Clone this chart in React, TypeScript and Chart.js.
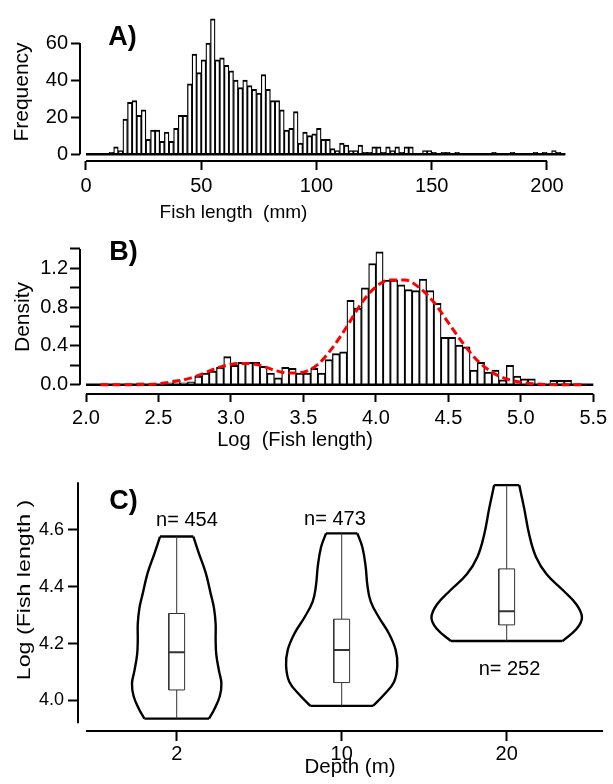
import { useEffect, useRef } from 'react';
import { Chart, registerables } from 'chart.js';

Chart.register(...registerables);

const FONT = '"Liberation Sans", Arial, Helvetica, sans-serif';
const INK = '#000000';
const BOX_INK = '#333333';
const FIT_RED = '#ff0000';

// A) Fish length frequencies, 2 mm bins from 0 mm
const lengthBinStart = 0;
const lengthBinWidth = 2;
const lengthCounts = [
  0, 0, 0, 0, 0, 1, 4, 2, 19, 28,
  29, 21, 24, 8, 13, 13, 7, 12, 7, 14,
  21, 21, 38, 54, 44, 51, 60, 73, 51, 52,
  48, 45, 40, 36, 40, 37, 35, 33, 43, 35,
  29, 29, 24, 13, 14, 23, 6, 12, 10, 11,
  14, 8, 8, 3, 2, 6, 5, 2, 2, 5,
  1, 1, 4, 4, 1, 4, 2, 4, 1, 4,
  4, 0, 0, 2, 2, 1, 0, 1, 1, 0,
  1, 0, 0, 0, 0, 0, 0, 0, 1, 0,
  0, 0, 1, 0, 0, 0, 0, 1, 0, 1,
  0, 2, 1, 0,
];
const lengthTicks = [0, 50, 100, 150, 200];
const frequencyTicks = [0, 20, 40, 60];

// B) Density of log(fish length), 0.05 bins from 2.0
const logBinStart = 2.0;
const logBinWidth = 0.05;
const logDensity = [
  0, 0, 0, 0, 0, 0, 0, 0.02, 0, 0,
  0, 0.02, 0.05, 0.02, 0.03, 0.09, 0.12, 0.14, 0.18, 0.29,
  0.2, 0.23, 0.23, 0.23, 0.19, 0.12, 0.07, 0.18, 0.17, 0.12,
  0.12, 0.17, 0.12, 0.26, 0.32, 0.34, 0.87, 0.79, 1.0, 1.25,
  1.37, 1.08, 1.08, 1.03, 0.98, 0.97, 1.09, 0.97, 0.84, 0.49,
  0.49, 0.41, 0.39, 0.15, 0.23, 0.13, 0.15, 0.05, 0.2, 0.09,
  0.06, 0.06, 0, 0, 0.045, 0.045, 0.045, 0, 0, 0,
];
// fitted two-component mixture density
const fitLogLength = [
  2.1, 2.2, 2.3, 2.4, 2.5, 2.6, 2.7, 2.8, 2.9, 3.0,
  3.1, 3.2, 3.3, 3.4, 3.5, 3.6, 3.7, 3.8, 3.9, 4.0,
  4.1, 4.2, 4.3, 4.4, 4.5, 4.6, 4.7, 4.8, 4.9, 5.0,
  5.1, 5.2, 5.3, 5.45,
];
const fitDensity = [
  0, 0, 0, 0.002, 0.01, 0.03, 0.06, 0.11, 0.17, 0.21,
  0.22, 0.2, 0.15, 0.12, 0.13, 0.21, 0.38, 0.6, 0.84, 1.01,
  1.08, 1.08, 1.0, 0.85, 0.64, 0.43, 0.25, 0.13, 0.06, 0.025,
  0.008, 0.002, 0, 0,
];
const logTicks = [2.0, 2.5, 3.0, 3.5, 4.0, 4.5, 5.0, 5.5];
const densityTicks = [0, 0.2, 0.4, 0.6, 0.8, 1.0, 1.2, 1.4];
const densityLabelled = [0, 0.4, 0.8, 1.2];

// C) Log(fish length) by depth: violin outlines (levels bottom to top) and box statistics
const depths = ['2', '10', '20'];
const sampleSizes = [454, 473, 252];
const violinLevels = [
  [3.936, 3.969, 4.015, 4.06, 4.105, 4.161, 4.212, 4.269, 4.325, 4.376, 4.449, 4.517, 4.577],
  [3.981, 4.02, 4.065, 4.122, 4.178, 4.235, 4.292, 4.348, 4.404, 4.472, 4.54, 4.588],
  [4.209, 4.252, 4.292, 4.337, 4.387, 4.444, 4.506, 4.585, 4.676, 4.758],
];
const violinHalfWidths = [
  [0.196, 0.228, 0.261, 0.271, 0.256, 0.24, 0.236, 0.236, 0.226, 0.206, 0.176, 0.135, 0.101],
  [0.19, 0.256, 0.317, 0.337, 0.327, 0.287, 0.226, 0.176, 0.156, 0.145, 0.125, 0.095],
  [0.338, 0.424, 0.456, 0.424, 0.343, 0.242, 0.177, 0.136, 0.106, 0.076],
];
const boxQ1 = [4.037, 4.063, 4.266];
const boxMedian = [4.17, 4.178, 4.314];
const boxQ3 = [4.306, 4.286, 4.463];
const boxHalfWidth = 0.048;
const countLabelX = [1.062, 1.959, 3.017];
const countLabelY = [4.632, 4.636, 4.11];
const logLengthTicks = [4.0, 4.2, 4.4, 4.6];

const W = 613;

type Note = {
  text: string;
  x: number;
  y: number;
  size: number;
  bold?: boolean;
  rotate?: boolean;
  stretch?: number;
};

type AxisSegments = {
  x: [number, number];
  y: [number, number];
};

// draws R-style axis lines (only over the given range) plus free text
function decorations(axes: AxisSegments, notes: (chart: Chart) => Note[]) {
  return {
    id: 'decorations',
    afterDraw(chart: Chart) {
      const { ctx, chartArea } = chart;
      const xs = chart.scales.x;
      const ys = chart.scales.y;
      ctx.save();
      ctx.strokeStyle = INK;
      ctx.lineWidth = 2;
      ctx.lineCap = 'butt';
      ctx.beginPath();
      ctx.moveTo(xs.getPixelForValue(axes.x[0]), chartArea.bottom);
      ctx.lineTo(xs.getPixelForValue(axes.x[1]), chartArea.bottom);
      ctx.moveTo(chartArea.left, ys.getPixelForValue(axes.y[0]));
      ctx.lineTo(chartArea.left, ys.getPixelForValue(axes.y[1]));
      ctx.stroke();
      for (const n of notes(chart)) {
        ctx.save();
        ctx.translate(n.x, n.y);
        if (n.rotate) ctx.rotate(-Math.PI / 2);
        ctx.scale(n.stretch ?? 1, 1);
        ctx.font = `${n.bold ? 'bold ' : ''}${n.size}px ${FONT}`;
        ctx.fillStyle = INK;
        ctx.textAlign = 'center';
        ctx.textBaseline = 'middle';
        ctx.fillText(n.text, 0, 0);
        ctx.restore();
      }
      ctx.restore();
    },
  };
}

function axis(
  min: number,
  max: number,
  ticks: number[],
  opts: { size: number; tickLength: number; padding: number; fixed: number; horizontal: boolean; label?: (v: number) => string },
) {
  return {
    type: 'linear' as const,
    min,
    max,
    offset: false,
    border: { display: false },
    grid: {
      offset: false,
      drawOnChartArea: false,
      drawTicks: true,
      tickLength: opts.tickLength,
      tickWidth: 2,
      tickColor: INK,
    },
    ticks: {
      color: INK,
      font: { family: FONT, size: opts.size },
      padding: opts.padding,
      autoSkip: false,
      maxRotation: 0,
      minRotation: 0,
      callback: (v: number | string) => (opts.label ? opts.label(Number(v)) : String(v)),
    },
    afterBuildTicks: (s: any) => {
      s.ticks = ticks.map((value) => ({ value }));
    },
    afterFit: (s: any) => {
      if (opts.horizontal) s.height = opts.fixed;
      else s.width = opts.fixed;
    },
  };
}

const baseOptions = {
  responsive: false,
  maintainAspectRatio: false,
  animation: false as const,
  devicePixelRatio: 1,
  events: [] as any[],
  plugins: { legend: { display: false }, tooltip: { enabled: false } },
};

const histBarStyle = {
  type: 'bar',
  backgroundColor: '#ffffff',
  borderColor: INK,
  borderWidth: { top: 2, left: 1.3, right: 1.3, bottom: 0 },
  borderSkipped: 'start',
  barPercentage: 1,
  categoryPercentage: 1,
  order: 2,
};

function lengthHistogram(): any {
  const bars = lengthCounts.map((c, i) => ({ x: lengthBinStart + (i + 0.5) * lengthBinWidth, y: c }));
  const end = lengthBinStart + lengthCounts.length * lengthBinWidth;
  return {
    type: 'bar',
    data: {
      datasets: [
        {
          type: 'line',
          data: [
            { x: lengthBinStart, y: 0 },
            { x: end, y: 0 },
          ],
          borderColor: INK,
          borderWidth: 2.5,
          pointRadius: 0,
          order: 1,
        },
        { ...histBarStyle, data: bars },
      ],
    },
    options: {
      ...baseOptions,
      layout: { padding: { top: 10, right: 38, bottom: 0, left: 0 } },
      scales: {
        x: axis(-2.603, 212.15, lengthTicks, { size: 20, tickLength: 9, padding: 4, fixed: 69, horizontal: true }),
        y: axis(-3.652, 75.13, frequencyTicks, { size: 20, tickLength: 9, padding: 3, fixed: 80, horizontal: false }),
      },
    },
    plugins: [
      decorations({ x: [0, 200], y: [0, 60] }, () => [
        { text: 'A)', x: 122.5, y: 38, size: 27, bold: true },
        { text: 'Frequency', x: 22, y: 92, size: 21, rotate: true },
        { text: 'Fish length  (mm)', x: 233.5, y: 213, size: 19 },
      ]),
    ],
  };
}

function logHistogram(): any {
  const bars = logDensity.map((d, i) => ({ x: logBinStart + (i + 0.5) * logBinWidth, y: d }));
  const end = logBinStart + logDensity.length * logBinWidth;
  const fit = fitLogLength.map((x, i) => ({ x, y: fitDensity[i] }));
  return {
    type: 'bar',
    data: {
      datasets: [
        {
          type: 'line',
          data: fit,
          borderColor: FIT_RED,
          borderWidth: 3,
          borderDash: [8, 4],
          cubicInterpolationMode: 'monotone',
          pointRadius: 0,
          order: 0,
        },
        {
          type: 'line',
          data: [
            { x: logBinStart, y: 0 },
            { x: end, y: 0 },
          ],
          borderColor: INK,
          borderWidth: 2.5,
          pointRadius: 0,
          order: 1,
        },
        { ...histBarStyle, data: bars },
      ],
    },
    options: {
      ...baseOptions,
      layout: { padding: { top: 2, right: 8, bottom: 0, left: 0 } },
      scales: {
        x: axis(1.9586, 5.5807, logTicks, {
          size: 20, tickLength: 8, padding: 4, fixed: 66, horizontal: true, label: (v) => v.toFixed(1),
        }),
        y: axis(-0.0955, 1.451, densityTicks, {
          size: 20, tickLength: 10, padding: 2, fixed: 80, horizontal: false,
          label: (v) => (densityLabelled.some((d) => Math.abs(d - v) < 1e-6) ? v.toFixed(1) : ''),
        }),
      },
    },
    plugins: [
      decorations({ x: [2.0, 5.5], y: [0, 1.4] }, () => [
        { text: 'B)', x: 123.5, y: 22.5, size: 27, bold: true },
        { text: 'Density', x: 23, y: 87, size: 21, rotate: true },
        { text: 'Log  (Fish length)', x: 295, y: 210, size: 20 },
      ]),
    ],
  };
}

function depthViolins(): any {
  const line = (data: { x: number; y: number }[], color: string, width: number, tension = 0) => ({
    data,
    showLine: true,
    borderColor: color,
    borderWidth: width,
    backgroundColor: 'transparent',
    pointRadius: 0,
    tension,
    fill: false,
  });
  const datasets: any[] = [];
  depths.forEach((_, i) => {
    const p = i + 1;
    const lv = violinLevels[i];
    const hw = violinHalfWidths[i];
    const n = lv.length;
    const lo = lv[0];
    const hi = lv[n - 1];
    // whiskers and box
    datasets.push(line([{ x: p, y: lo }, { x: p, y: boxQ1[i] }], BOX_INK, 1));
    datasets.push(line([{ x: p, y: boxQ3[i] }, { x: p, y: hi }], BOX_INK, 1));
    datasets.push(
      line(
        [
          { x: p - boxHalfWidth, y: boxQ1[i] },
          { x: p + boxHalfWidth, y: boxQ1[i] },
          { x: p + boxHalfWidth, y: boxQ3[i] },
          { x: p - boxHalfWidth, y: boxQ3[i] },
          { x: p - boxHalfWidth, y: boxQ1[i] },
        ],
        BOX_INK,
        1,
      ),
    );
    datasets.push(line([{ x: p - boxHalfWidth, y: boxMedian[i] }, { x: p + boxHalfWidth, y: boxMedian[i] }], BOX_INK, 2));
    // violin outline
    datasets.push(line(lv.map((y, k) => ({ x: p + hw[k], y })), INK, 2.4, 0.4));
    datasets.push(line(lv.map((y, k) => ({ x: p - hw[k], y })), INK, 2.4, 0.4));
    datasets.push(line([{ x: p - hw[0], y: lo }, { x: p + hw[0], y: lo }], INK, 2.4));
    datasets.push(line([{ x: p - hw[n - 1], y: hi }, { x: p + hw[n - 1], y: hi }], INK, 2.4));
  });
  return {
    type: 'scatter',
    data: { datasets },
    options: {
      ...baseOptions,
      layout: { padding: { top: 5, right: 3, bottom: 0, left: 0 } },
      scales: {
        x: axis(0.4018, 3.6261, [1, 2, 3], {
          size: 20, tickLength: 10, padding: 1, fixed: 53, horizontal: true, label: (v) => depths[Math.round(v) - 1] ?? '',
        }),
        y: axis(3.8925, 4.7942, logLengthTicks, {
          size: 18, tickLength: 10, padding: 4, fixed: 78, horizontal: false, label: (v) => v.toFixed(1),
        }),
      },
    },
    plugins: [
      decorations({ x: [0.45, 3.584], y: [3.92, 4.768] }, (chart) => {
        const xs = chart.scales.x;
        const ys = chart.scales.y;
        return [
          { text: 'C)', x: 123.5, y: 42, size: 27, bold: true },
          { text: 'Log (Fish length )', x: 25, y: 130, size: 19, rotate: true, stretch: 1.22 },
          { text: 'Depth (m)', x: 350, y: 307, size: 20.5 },
          ...sampleSizes.map((n, i) => ({
            text: `n= ${n}`,
            x: xs.getPixelForValue(countLabelX[i]),
            y: ys.getPixelForValue(countLabelY[i]),
            size: 20,
          })),
        ];
      }),
    ],
  };
}

function Panel({ top, height, build }: { top: number; height: number; build: () => any }) {
  const ref = useRef<HTMLCanvasElement | null>(null);
  useEffect(() => {
    if (!ref.current) return;
    const chart = new Chart(ref.current, build());
    return () => chart.destroy();
  }, [build]);
  return (
    <canvas
      ref={ref}
      width={W}
      height={height}
      style={{ position: 'absolute', left: 0, top, width: W, height, display: 'block' }}
    />
  );
}

export default function App() {
  return (
    <div style={{ position: 'absolute', left: 0, top: 0, width: W, height: 784, background: '#ffffff' }}>
      <Panel top={0} height={230} build={lengthHistogram} />
      <Panel top={230} height={230} build={logHistogram} />
      <Panel top={460} height={324} build={depthViolins} />
    </div>
  );
}
